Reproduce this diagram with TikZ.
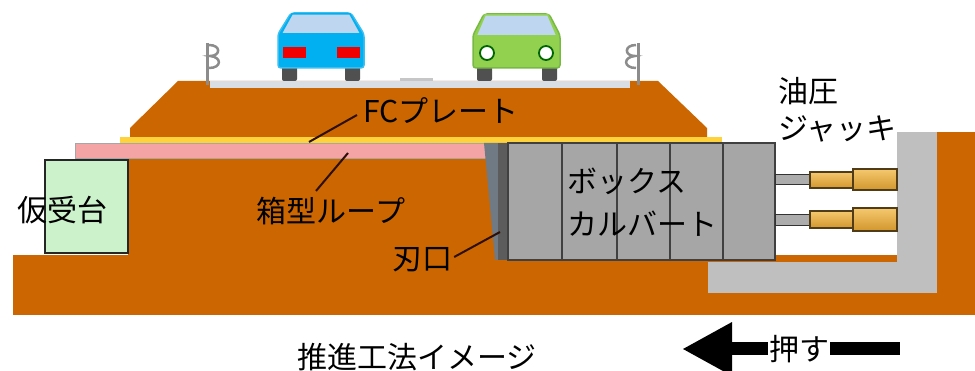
\documentclass[tikz,border=0pt]{standalone}
\usepackage{fontspec}
\setmainfont{Noto Sans CJK JP}
\usetikzlibrary{arrows.meta,calc}
\definecolor{soil}{RGB}{204,102,0}
\definecolor{road}{RGB}{217,222,228}
\definecolor{wallgray}{RGB}{191,191,191}
\definecolor{roofpink}{RGB}{244,164,164}
\definecolor{plate}{RGB}{255,210,60}
\definecolor{support}{RGB}{204,242,204}
\definecolor{culvert}{RGB}{166,166,166}
\definecolor{culvertline}{RGB}{64,64,64}
\definecolor{carblue}{RGB}{0,176,240}
\definecolor{carblueedge}{RGB}{60,190,240}
\definecolor{cargreen}{RGB}{146,208,80}
\definecolor{cargreenedge}{RGB}{120,185,70}
\definecolor{glass}{RGB}{190,214,240}
\definecolor{taillight}{RGB}{240,0,0}
\definecolor{tyre}{RGB}{80,80,80}
\definecolor{jacktop}{RGB}{245,200,110}
\definecolor{jackbot}{RGB}{210,150,45}
\definecolor{jackedge}{RGB}{80,60,25}
\definecolor{leadcol}{RGB}{45,15,10}
\definecolor{edgeslate}{RGB}{112,122,132}
\definecolor{edgedark}{RGB}{92,92,92}
\begin{document}
\begin{tikzpicture}[x=1pt,y=-1pt,
  lbl/.style={font=\fontsize{30}{30}\selectfont, inner sep=0pt, text=black},
  leader/.style={line width=2pt, draw=leadcol},
  post/.style={draw=gray!90, line width=3pt},
  curl/.style={draw=gray!90, line width=2.5pt},
  segment/.style={fill=culvert, draw=culvertline, line width=2.5pt},
  rod/.style={fill=gray!65, draw=gray!40!black, line width=1pt},
  cyl/.style={top color=jacktop, bottom color=jackbot, draw=jackedge, line width=1.2pt},
  wheel/.style={fill=tyre, rounded corners=2pt},
  pushbar/.style={line width=13pt, draw=black}]
\useasboundingbox (0,0) rectangle (975,371);
\fill[white] (0,0) rectangle (975,371);

% ground and embankment
\fill[soil] (13,255) rectangle (975,315);
\fill[soil] (128,140) rectangle (510,256);
\fill[soil] (130,140) -- (130,128) -- (178,81) -- (658,81) -- (707,128) -- (707,140) -- cycle;
\fill[soil] (937,132) rectangle (975,315);

% road surface
\fill[road] (210,81) rectangle (630,88);
\fill[gray!45] (400,78) rectangle (433,81);

% reaction wall
\fill[wallgray] (897,132) rectangle (937,293);
\fill[wallgray] (708,262) rectangle (937,293);
\fill[soil] (775,255) rectangle (897,262);

% guard rail posts
\draw[post] (207,43) -- (207,85);
\draw[curl] (209,45) .. controls (221,45) and (221,56) .. (210,56)
                     .. controls (222,57) and (222,68) .. (209,68);
\draw[post] (638,43) -- (638,85);
\draw[curl] (636,45) .. controls (624,45) and (624,56) .. (635,56)
                     .. controls (623,57) and (623,68) .. (636,68);

% blue car
\fill[wheel] (282,62) rectangle (297,81);
\fill[wheel] (345,62) rectangle (360,81);
\draw[fill=carblue, draw=carblueedge, line width=1.5pt, rounded corners=3pt]
  (291,13) -- (351,13) -- (364,34) -- (364,68) -- (278,68) -- (278,34) -- cycle;
\draw[fill=glass, draw=carblue, line width=1.5pt] (292,14) -- (350,14) -- (361,34) -- (281,34) -- cycle;
\fill[taillight] (283,47) rectangle (306,58);
\fill[taillight] (337,47) rectangle (360,58);

% green car
\fill[wheel] (477,64) rectangle (492,81);
\fill[wheel] (542,64) rectangle (557,81);
\draw[fill=cargreen, draw=cargreenedge, line width=1.5pt, rounded corners=3pt]
  (484,14) -- (549,14) -- (560,35) -- (560,68) -- (473,68) -- (473,35) -- cycle;
\draw[fill=glass, draw=cargreen, line width=1.5pt] (485,15) -- (548,15) -- (557,36) -- (476,36) -- cycle;
\draw[fill=white, draw=green!40!black, line width=1.8pt] (487,53) circle (7);
\draw[fill=white, draw=green!40!black, line width=1.8pt] (546,53) circle (7);

% box roof and FC plate
\draw[fill=roofpink, draw=gray!70, line width=0.8pt] (75,143) rectangle (497,158);
\fill[plate] (120,137) rectangle (722,143);

% temporary support
\draw[fill=support, draw=gray!30!black, line width=1.5pt] (45,160) rectangle (128,253);

% cutting edge
\fill[edgeslate] (484,143) -- (509,143) -- (509,260) -- (495,260) -- cycle;
\fill[edgedark] (498,143) rectangle (509,260);

% box culvert segments
\foreach \a/\b in {508/562,562/617,617/670,670/723,723/775}
  \draw[segment] (\a,143) rectangle (\b,260);

% hydraulic jacks
\draw[rod] (775,175) rectangle (810,185);
\draw[cyl] (810,172) rectangle (853,188);
\draw[cyl] (853,169) rectangle (897,190);
\draw[rod] (775,215) rectangle (810,226);
\draw[cyl] (810,211) rectangle (853,228);
\draw[cyl] (853,208) rectangle (897,231);

% labels
\node[lbl, anchor=west] (fc) at (363,111) {FCプレート};
\node[lbl] (roof) at (331,211) {箱型ループ};
\node[lbl] (edge) at (422,260) {刃口};
\node[lbl] (sup) at (62,210) {仮受台};
\node[lbl, anchor=west] (box1) at (567,181) {ボックス};
\node[lbl, anchor=west] (box2) at (567,224) {カルバート};
\node[lbl, anchor=west] (jack1) at (778,91) {油圧};
\node[lbl, anchor=west] (jack2) at (778,129) {ジャッキ};
\node[lbl, anchor=west] (title) at (297,357) {推進工法イメージ};

% leaders
\coordinate (fcp) at (309,142);
\coordinate (roofp) at (348,153);
\coordinate (edgep) at (500,232);
\draw[leader] (fcp) -- ($(fc.west)+(-6,4)$);
\draw[leader] (roofp) -- ($(roof.north)+(-15,-6)$);
\draw[leader] ($(edge.east)+(2,-3)$) -- (edgep);

% push arrow
\node[lbl, inner sep=1pt] (push) at (799,349) {押す};
\coordinate (tip) at (682,349);
\coordinate (barend) at (900,349);
\draw[pushbar, -{Triangle[length=50pt,width=50pt]}] (push.west) -- (tip);
\draw[pushbar] (push.east) -- (barend);
\end{tikzpicture}
\end{document}
